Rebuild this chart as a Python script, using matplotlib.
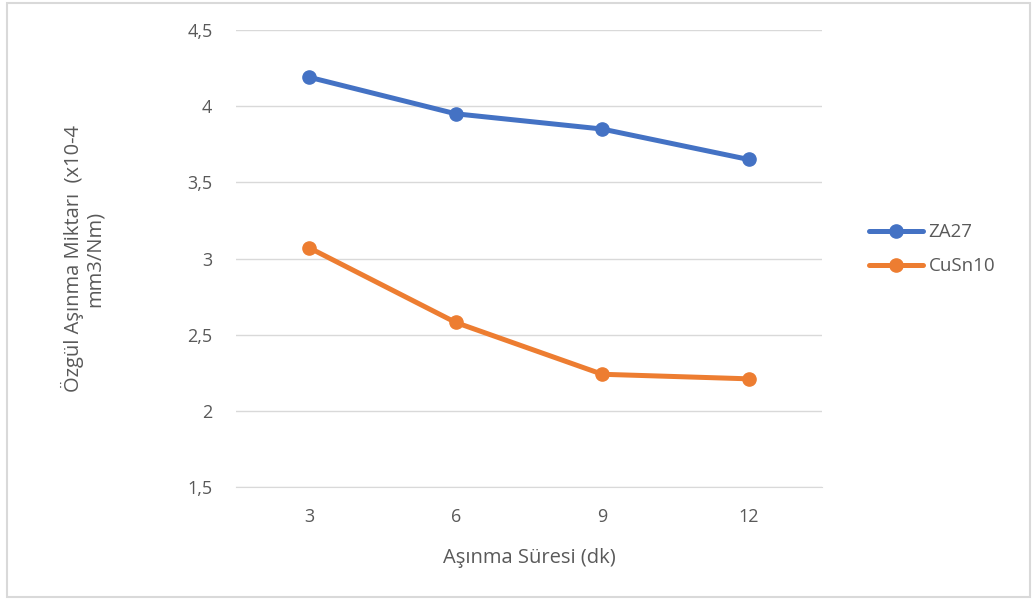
import matplotlib.pyplot as plt
from matplotlib.patches import Rectangle

# wear time (min) and specific wear rate for both alloys
categories = ['3', '6', '9', '12']
za27 = [4.19, 3.95, 3.85, 3.65]
cusn10 = [3.07, 2.58, 2.24, 2.21]
yticks = [1.5, 2.0, 2.5, 3.0, 3.5, 4.0, 4.5]
ytick_labels = ['1,5', '2', '2,5', '3', '3,5', '4', '4,5']

plt.rcParams['font.family'] = ['Open Sans', 'DejaVu Sans']
text_col = '#595959'

fig = plt.figure(figsize=(10.33, 6.03), dpi=100)
ax = fig.add_axes([0.2285, 0.1924, 0.5672, 0.7578])

x = range(len(categories))
ax.plot(x, za27, color='#4472C4', lw=3.6, marker='o', ms=9.5, label='ZA27',
        solid_capstyle='round', zorder=3)
ax.plot(x, cusn10, color='#ED7D31', lw=3.6, marker='o', ms=9.5, label='CuSn10',
        solid_capstyle='round', zorder=3)

ax.set_xlim(-0.5, len(categories) - 0.5)
ax.set_ylim(1.5, 4.5)
ax.set_xticks(list(x))
ax.set_xticklabels(categories)
ax.set_yticks(yticks)
ax.set_yticklabels(ytick_labels)
ax.tick_params(length=0, colors=text_col, labelsize=13)
ax.tick_params(axis='y', pad=17)
ax.tick_params(axis='x', pad=15)
ax.grid(axis='y', color='#D9D9D9', lw=1)
ax.set_axisbelow(True)
for s in ['top', 'right', 'left']:
    ax.spines[s].set_visible(False)
ax.spines['bottom'].set_color('#D9D9D9')

ax.set_xlabel('Aşınma Süresi (dk)', fontsize=14.5, color=text_col, labelpad=16)
ax.set_ylabel('Özgül Aşınma Miktarı  (x10-4\nmm3/Nm)', fontsize=14.5,
              color=text_col, labelpad=59, linespacing=1.1)

leg = ax.legend(loc='center left', bbox_to_anchor=(1.051, 0.52), frameon=False,
                fontsize=13.5, handlelength=2.9, labelspacing=0.85,
                handletextpad=0.3, labelcolor=text_col)

# light outer frame around the chart
fig.patches.append(Rectangle((0.007, 0.01), 0.99, 0.985, transform=fig.transFigure,
                             fill=False, edgecolor='#D9D9D9', lw=1.5))

fig.savefig('out.png', dpi=100)
